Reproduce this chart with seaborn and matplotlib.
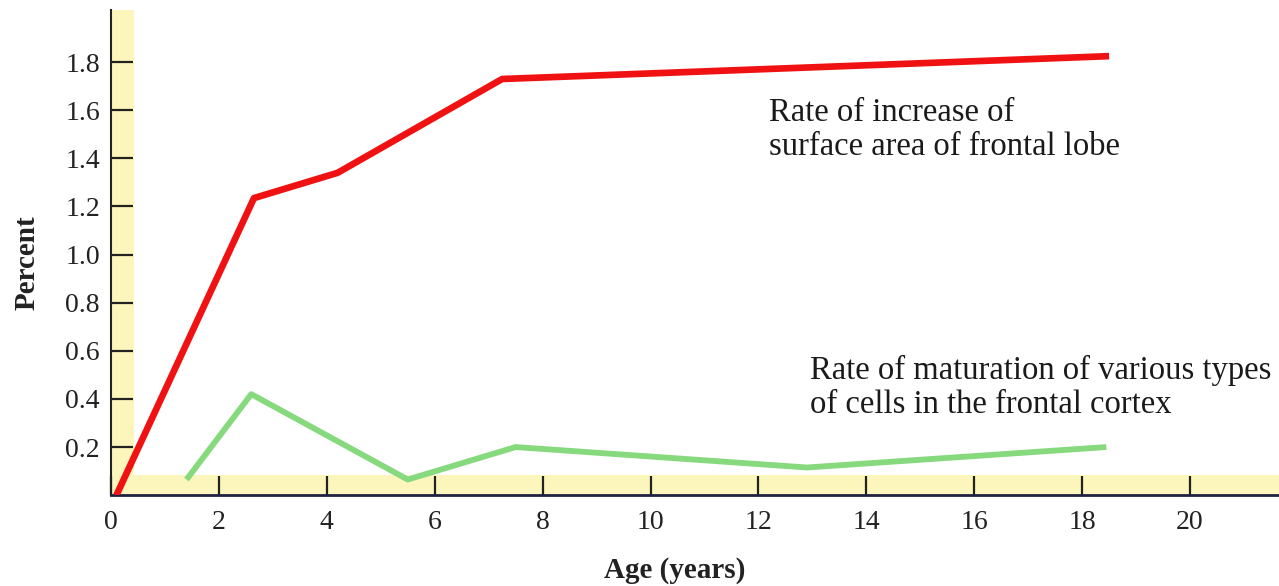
#! /usr/bin/env python
"""
Growth rate of the frontal lobe vs. maturation of frontal cortex cells
"""

import pandas as pd
import seaborn as sns
import matplotlib.pyplot as plt

# red curve: rate of increase of surface area of frontal lobe
surface_age = [0.1, 2.65, 4.2, 7.25, 18.5]
surface_pct = [0.0, 1.235, 1.34, 1.73, 1.825]

# green curve: rate of maturation of cell types
cells_age = [1.4, 2.6, 5.5, 7.5, 12.9, 18.45]
cells_pct = [0.065, 0.42, 0.065, 0.20, 0.115, 0.20]

x_ticks = [0, 2, 4, 6, 8, 10, 12, 14, 16, 18, 20]
y_ticks = [0.2, 0.4, 0.6, 0.8, 1.0, 1.2, 1.4, 1.6, 1.8]

SURFACE_LABEL = "Rate of increase of\nsurface area of frontal lobe"
CELLS_LABEL = "Rate of maturation of various types\nof cells in the frontal cortex"

sns.set_style("white")
plt.rcParams["font.family"] = ["Liberation Serif", "DejaVu Serif"]

df_surface = pd.DataFrame({"Age": surface_age, "Percent": surface_pct})
df_cells = pd.DataFrame({"Age": cells_age, "Percent": cells_pct})

fig = plt.figure(figsize=(12.79, 5.86), dpi=100)
ax = fig.add_axes([0.0868, 0.155, 0.9132, 0.828])

x_max = 21.65
y_max = 2.017

# pale yellow bands along both axes
ax.axvspan(0, 0.42, color="#fdf6bc", zorder=0, lw=0)
ax.axhspan(0, 0.085, color="#fdf6bc", zorder=0, lw=0)

sns.lineplot(data=df_surface, x="Age", y="Percent", ax=ax,
             color="#f01212", linewidth=4.8, solid_capstyle="butt", zorder=3)
sns.lineplot(data=df_cells, x="Age", y="Percent", ax=ax,
             color="#86d97c", linewidth=4.2, solid_capstyle="butt", zorder=3)

ax.set_xlim(0, x_max)
ax.set_ylim(0, y_max)
ax.set_xticks(x_ticks)
ax.set_yticks(y_ticks)
ax.set_xticklabels([str(t) for t in x_ticks])
ax.set_yticklabels([f"{t:.1f}" for t in y_ticks])

ax.tick_params(axis="both", bottom=True, left=True, direction="in",
               width=1.6, color="#222222", labelsize=20, labelcolor="#222222")
ax.tick_params(axis="y", length=16, pad=8)
ax.tick_params(axis="x", length=14, pad=11)

for side in ["top", "right"]:
    ax.spines[side].set_visible(False)
ax.spines["left"].set_color("#222222")
ax.spines["bottom"].set_color("#1e2240")
ax.spines["left"].set_linewidth(1.5)
ax.spines["bottom"].set_linewidth(2)

ax.set_xlabel("Age (years)", fontsize=21, fontweight="bold", color="#222222")
ax.set_ylabel("Percent", fontsize=21, fontweight="bold", color="#222222")
ax.xaxis.set_label_coords(0.483, -0.128)
ax.yaxis.set_label_coords(-0.06, 0.48)

ax.text(12.2, 1.655, SURFACE_LABEL, fontsize=23.5, color="#1a1a1a",
        va="top", ha="left", linespacing=1.15)
ax.text(12.95, 0.585, CELLS_LABEL, fontsize=23.5, color="#1a1a1a",
        va="top", ha="left", linespacing=1.15, clip_on=False)

plt.savefig("out.png", dpi=100)
